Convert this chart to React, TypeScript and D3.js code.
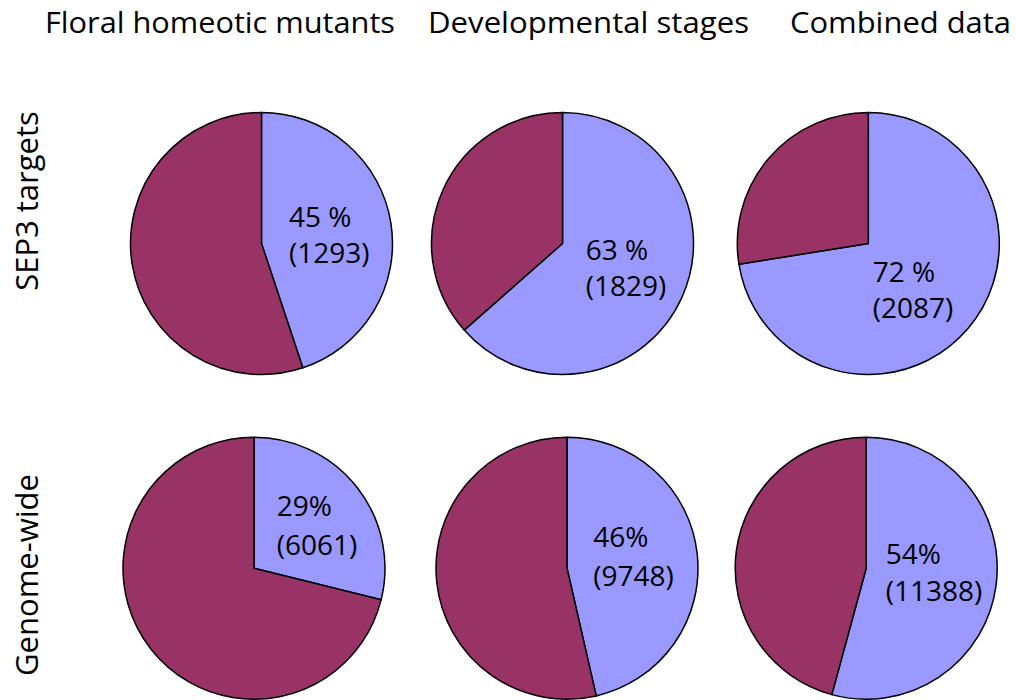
import React from "react";
import * as d3 from "d3";

// ---- data ----
const COLUMNS = ["Floral homeotic mutants", "Developmental stages", "Combined data"];
const ROWS = ["SEP3 targets", "Genome-wide"];
const ROW_TOTALS = [2880, 21000];
const SEP3_COUNTS = [1293, 1829, 2087];
const GENOME_COUNTS = [6061, 9748, 11388];
const SEP3_PCT_LABELS = ["45 %", "63 %", "72 %"];
const GENOME_PCT_LABELS = ["29%", "46%", "54%"];

// ---- layout / style ----
const W = 1016;
const H = 700;
const R = 131;
const PIE_CX = [
  [261.5, 562.5, 868.3],
  [254, 567, 866.2],
];
const PIE_CY = [243.5, 568.2];
const TITLE_X = [45, 428, 790];
const TITLE_LEN = [350, 321, 221];
const TITLE_Y = 33;
const ROW_LABEL_X = 37.5;
const ROW_LABEL_Y = [201, 575];
// label anchor (left x, first baseline) relative to pie centre, and line gap
const LABEL_OFF = [
  [
    [27.5, -16.8, 36.3],
    [23.2, 16, 36],
    [4.4, 38.3, 36.3],
  ],
  [
    [22.7, -52.3, 38.6],
    [26.3, -20.8, 39],
    [19.5, -4.7, 37.7],
  ],
];
const BLUE = "#9999ff";
const MAROON = "#993366";
const FONT = "'Open Sans', 'DejaVu Sans', sans-serif";

export default function App() {
  const counts = [SEP3_COUNTS, GENOME_COUNTS];
  const pctLabels = [SEP3_PCT_LABELS, GENOME_PCT_LABELS];
  const pie = d3
    .pie<number>()
    .sort(null)
    .value((d) => d)
    .startAngle(0)
    .endAngle(2 * Math.PI);
  const arc = d3.arc<d3.PieArcDatum<number>>().innerRadius(0).outerRadius(R);

  return (
    <svg
      width={W}
      height={H}
      style={{ position: "absolute", left: 0, top: 0, background: "#fff" }}
      fontFamily={FONT}
    >
      <rect x={0} y={0} width={W} height={H} fill="#fff" />
      {COLUMNS.map((t, i) => (
        <text
          key={t}
          x={TITLE_X[i]}
          y={TITLE_Y}
          fontSize={29.5}
          textLength={TITLE_LEN[i]}
          lengthAdjust="spacingAndGlyphs"
          fill="#000"
        >
          {t}
        </text>
      ))}
      {ROWS.map((t, r) => (
        <text
          key={t}
          transform={`translate(${ROW_LABEL_X},${ROW_LABEL_Y[r]}) rotate(-90)`}
          textAnchor="middle"
          fontSize={31}
          fill="#000"
        >
          {t}
        </text>
      ))}
      {counts.map((row, r) =>
        row.map((c, i) => {
          const slices = pie([c, ROW_TOTALS[r] - c]);
          const cx = PIE_CX[r][i];
          const cy = PIE_CY[r];
          const [dx, dy, gap] = LABEL_OFF[r][i];
          return (
            <g key={`${r}-${i}`} transform={`translate(${cx},${cy})`}>
              {slices.map((s, k) => (
                <path
                  key={k}
                  d={arc(s) || ""}
                  fill={k === 0 ? BLUE : MAROON}
                  stroke="#000"
                  strokeWidth={1.5}
                  strokeLinejoin="round"
                />
              ))}
              <text x={dx} y={dy} fontSize={28} fill="#000">
                {pctLabels[r][i]}
              </text>
              <text x={dx} y={dy + gap} fontSize={28} fill="#000">
                {`(${c})`}
              </text>
            </g>
          );
        })
      )}
    </svg>
  );
}
